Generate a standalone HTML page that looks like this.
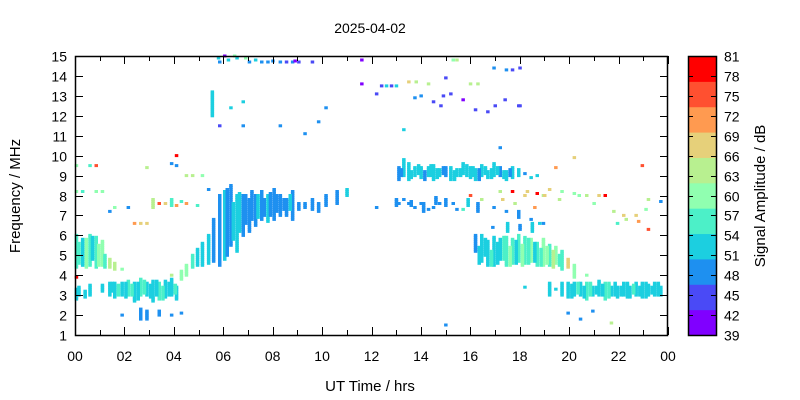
<!DOCTYPE html>
<html><head><meta charset="utf-8"><style>
html,body{margin:0;padding:0;background:#fff;}
svg{display:block;font-family:"Liberation Sans",Arial,sans-serif;}
</style></head><body>
<svg id="chart" width="800" height="400" viewBox="0 0 800 400">
<text x="370" y="33" font-size="14" text-anchor="middle">2025-04-02</text>
<text x="370" y="391" font-size="15" text-anchor="middle">UT Time / hrs</text>
<text transform="translate(20,196) rotate(-90)" font-size="15" text-anchor="middle">Frequency / MHz</text>
<text transform="translate(765,196) rotate(-90)" font-size="15" text-anchor="middle">Signal Amplitude / dB</text>
<g id="marks"></g>
<g id="axes"></g>
<g id="cbar"></g>
</svg>
<script>
const xTickLabels = ["00","02","04","06","08","10","12","14","16","18","20","22","00"];
const yTickLabels = [1,2,3,4,5,6,7,8,9,10,11,12,13,14,15];
const cbTickLabels = [39,42,45,48,51,54,57,60,63,66,69,72,75,78,81];
const bandColors = ["#8000ff","#4a4af6","#1e90f0","#1ccfe0","#4cf0c8","#90ffb0","#b8f090","#e6d07a","#ff9a50","#ff5030","#ff0000"];
// runs: time (h), start freq, end freq, amplitude (dB)
const runTimes = [0.05,0.05,0.05,0.05,0.05,0.3,0.3,0.6,0.6,0.6,0.85,0.85,0.85,1.1,1.1,1.1,1.4,1.4,1.4,1.6,1.6,1.6,1.9,1.9,1.9,2.15,2.15,2.4,2.4,2.65,2.65,2.65,2.9,2.9,2.9,2.9,3.15,3.15,3.4,3.4,3.4,3.65,3.65,3.9,3.9,3.9,3.9,3.9,4.1,4.1,4.1,4.1,4.3,4.3,4.3,4.5,4.5,4.5,4.75,4.75,4.95,4.95,5.15,5.15,5.4,5.4,5.6,5.55,5.85,5.85,5.85,6.05,6.05,6.3,6.3,6.55,6.55,6.8,6.8,6.8,7.05,7.05,7.3,7.55,7.55,7.8,7.8,8.05,8.3,8.3,8.3,8.55,8.55,8.8,8.8,9.05,9.05,9.3,9.3,9.6,9.6,9.85,9.85,10.15,10.15,10.6,11.0,11.6,11.6,12.2,12.2,12.4,12.6,12.8,13.0,13.1,13.1,13.3,13.3,13.3,13.5,13.5,13.5,13.75,13.75,13.75,14.0,14.0,14.0,14.3,14.3,14.3,14.5,14.5,14.5,14.75,14.75,15.0,15.0,15.0,15.0,15.2,15.2,15.45,15.45,15.45,15.7,15.7,15.7,16.0,16.0,16.2,16.2,16.2,16.45,16.45,16.45,16.7,16.7,16.7,16.95,16.95,16.95,16.95,17.2,17.2,17.2,17.2,17.45,17.45,17.45,17.45,17.7,17.7,17.7,17.95,17.95,17.95,17.95,18.2,18.2,18.2,18.2,18.45,18.45,18.45,18.7,18.7,18.7,18.95,18.95,18.95,19.2,19.2,19.2,19.45,19.45,19.45,19.7,19.7,19.7,19.95,19.95,19.95,20.2,20.2,20.2,20.2,20.45,20.45,20.7,20.7,20.7,20.95,20.95,21.2,21.2,21.45,21.45,21.7,21.7,21.95,21.95,22.2,22.2,22.45,22.7,22.7,22.95,22.95,23.2,23.2,23.2,23.45,23.7,23.7];
const runStart = [4.4,2.8,8.2,9.5,3.9,4.5,8.2,4.5,3.0,9.5,4.4,8.2,9.5,4.5,3.2,8.2,4.4,3.0,7.2,4.3,2.9,7.4,4.3,3.0,2.0,3.0,7.4,2.7,6.6,3.0,1.8,6.6,3.0,1.8,6.6,9.4,2.7,7.4,2.8,2.0,7.6,2.9,7.6,3.0,2.0,7.5,9.6,4.0,2.8,10.0,9.5,7.5,3.8,2.1,7.7,4.0,7.6,9.0,4.4,9.0,4.5,7.5,4.5,9.0,4.6,8.3,4.7,12.0,4.5,14.7,11.5,4.8,15.0,5.5,12.4,5.2,14.9,6.0,12.7,11.5,6.2,14.7,6.5,6.8,14.7,6.7,14.7,6.8,7.0,14.7,11.5,7.0,14.7,6.8,14.7,7.3,14.7,7.4,11.1,7.3,14.7,7.2,11.7,7.5,12.4,7.6,8.0,14.8,13.6,7.4,13.1,13.5,13.5,13.5,13.5,8.8,7.6,9.0,7.8,11.3,8.8,7.6,13.7,9.0,7.4,12.9,8.9,7.6,13.0,9.0,7.3,13.6,8.8,7.4,12.7,9.0,7.6,9.0,7.5,13.9,1.5,8.8,13.1,9.0,7.3,14.8,9.1,7.3,12.8,8.9,8.0,8.8,5.2,12.3,9.0,4.7,7.8,8.9,4.5,12.2,9.0,4.5,7.4,14.4,9.0,4.8,8.2,10.4,8.8,4.5,7.2,14.3,8.9,4.6,8.2,9.0,4.7,6.9,12.5,9.1,4.6,8.0,3.4,8.9,4.7,6.8,9.0,4.5,8.1,4.5,6.6,8.0,4.5,3.0,8.3,4.6,3.3,9.4,4.3,3.0,8.2,4.4,2.9,2.1,3.9,3.0,8.1,9.9,3.0,1.8,2.8,8.0,4.0,3.0,2.2,3.0,8.0,2.8,8.0,3.0,1.6,2.9,6.6,3.0,7.0,2.9,3.0,7.0,2.9,9.5,3.0,6.3,7.8,3.0,3.0,7.7];
const runEnd = [6.0,3.3,8.2,9.5,3.9,5.8,8.2,6.0,3.5,9.5,5.9,8.2,9.5,5.7,3.5,8.2,4.8,3.6,7.2,4.6,3.6,7.4,4.3,3.6,2.0,3.7,7.4,3.6,6.6,3.8,2.3,6.6,3.6,2.2,6.6,9.4,3.7,7.8,3.6,2.2,7.6,3.7,7.6,3.8,2.0,7.8,9.6,4.0,3.4,10.0,9.5,7.5,4.2,2.1,7.7,4.5,7.6,9.0,5.0,9.0,5.3,7.5,5.6,9.0,6.0,8.3,6.8,13.2,8.0,14.7,11.5,8.2,15.0,8.5,12.4,8.0,14.9,8.0,12.7,11.5,7.8,14.7,8.0,8.2,14.7,8.0,14.7,8.3,8.0,14.7,11.5,7.8,14.7,8.2,14.7,7.6,14.7,7.6,11.1,7.8,14.7,7.6,11.7,8.0,12.4,8.2,8.3,14.8,13.6,7.4,13.1,13.5,13.5,13.5,13.5,9.4,7.6,9.8,7.8,11.3,9.6,7.6,13.7,9.4,7.4,12.9,9.4,7.6,13.0,9.4,7.3,13.6,9.5,7.4,12.7,9.3,7.6,9.4,7.8,13.9,1.5,9.4,13.1,9.3,7.3,14.8,9.6,7.3,12.8,9.4,8.0,9.3,6.0,12.3,9.5,6.0,7.8,9.2,5.7,12.2,9.6,5.9,7.4,14.4,9.4,5.8,8.2,10.4,9.2,5.9,7.2,14.3,9.4,5.8,8.2,9.3,6.0,7.2,12.5,9.1,5.9,8.0,3.4,8.9,5.8,6.8,9.0,5.6,8.1,5.8,6.6,8.0,5.5,3.6,8.3,5.4,3.3,9.4,5.2,3.6,8.2,4.8,3.6,2.1,4.5,3.6,8.1,9.9,3.6,1.8,3.6,8.0,4.0,3.4,2.2,3.7,8.0,3.6,8.0,3.4,1.6,3.4,6.6,3.6,7.0,3.4,3.6,7.0,3.6,9.5,3.5,6.3,7.8,3.6,3.4,7.7];
const runAmps = [56,52,60,60,79,52,56,56,52,56,56,60,75,60,52,60,64,52,48,64,52,60,60,52,48,56,48,52,71,56,48,67,52,48,67,64,52,64,56,48,75,52,67,52,48,56,48,64,52,79,48,71,60,48,56,60,71,64,56,64,52,56,52,60,52,48,48,52,48,48,44,52,40,48,52,52,52,48,52,48,48,48,48,48,48,52,48,48,48,48,48,48,44,48,48,48,44,48,48,48,44,48,48,48,48,48,52,40,40,48,44,44,52,44,52,48,48,52,48,52,52,48,67,52,48,48,52,48,48,52,48,64,52,48,44,52,48,48,48,44,48,52,44,52,48,64,52,56,40,52,75,52,48,44,52,52,64,52,52,44,52,52,48,48,48,52,64,48,52,56,48,48,52,56,79,52,56,48,44,48,56,67,52,52,60,48,52,56,79,60,48,64,56,52,67,60,52,71,56,52,60,67,52,48,60,52,60,67,52,48,56,64,60,52,48,52,67,56,79,52,64,52,56,52,67,52,52,67,52,75,52,75,64,52,52,48];
// additional runs read from the denser regions
const extraTimes = [16.35,16.6,16.85,17.1,17.35,17.6,17.85,18.1,18.35,18.6,18.85,19.1,19.35,19.6,17.5,18.0,18.5,18.8,16.9,13.2,13.6,13.9,14.15,14.4,14.65,14.9,15.35,15.6,15.85,16.1,16.35,16.6,16.85,17.1,17.35,17.6,13.0,13.6,14.1,14.6,15.3,15.9,16.3,6.15,6.4,6.65,6.9,7.15,7.4,7.65,7.9,8.15,8.45,8.7,0.15,0.45,0.7,0.95,1.2,0.15,0.4,1.5,1.75,2.05,2.3,2.55,2.8,3.05,3.3,3.55,3.8,4.05,20.1,20.35,20.6,20.85,21.1,21.35,21.6,21.85,22.1,22.35,22.6,22.85,23.1,23.35,23.6,5.8,6.2,6.45,6.9,7.3,8.0,8.9,15.3,16.0,16.3,13.8,14.9,14.8,17.0,17.4,17.7,18.0,18.0,17.3,17.8,18.3,18.6,19.0,19.6,20.4,21.0,21.8,22.3,22.8,23.1];
const extraStart = [4.6,5.0,4.5,4.6,4.8,4.5,4.6,4.5,4.6,4.7,4.5,4.6,4.4,4.5,6.2,6.3,6.2,6.6,6.4,9.0,8.9,9.1,8.8,9.0,8.9,9.1,8.8,9.0,9.0,9.0,8.8,9.1,8.9,9.1,8.9,9.0,7.5,7.5,7.2,7.6,7.6,7.5,7.2,5.0,5.8,6.2,6.6,6.8,6.9,7.0,7.0,7.2,7.3,7.3,4.6,4.4,4.8,4.5,4.4,3.0,2.9,3.2,3.0,2.9,3.0,2.8,3.1,2.9,3.0,2.8,3.0,3.1,2.9,3.1,2.9,3.0,3.1,3.0,2.9,3.0,3.0,2.9,3.1,3.0,2.9,3.1,3.0,14.9,14.8,15.0,14.9,14.8,14.75,14.75,14.8,13.6,13.6,13.7,13.0,12.5,12.5,12.8,14.3,14.4,12.5,7.8,7.6,8.2,7.4,8.0,7.8,8.0,7.6,7.2,6.8,6.7,7.3];
const extraEnd = [5.4,5.8,5.2,5.6,5.9,5.4,5.7,5.5,5.8,5.6,5.3,5.4,5.2,5.0,6.6,6.5,6.6,6.6,6.4,9.3,9.2,9.5,9.2,9.5,9.3,9.4,9.2,9.3,9.5,9.4,9.3,9.4,9.3,9.4,9.2,9.3,7.8,7.7,7.6,7.9,7.6,7.8,7.6,8.3,7.6,8.1,8.0,8.2,8.0,7.8,8.1,8.0,7.8,8.0,5.6,5.8,5.9,5.5,5.0,3.4,3.2,3.6,3.5,3.6,3.5,3.6,3.7,3.5,3.7,3.4,3.6,3.5,3.5,3.6,3.4,3.6,3.4,3.5,3.6,3.6,3.4,3.6,3.5,3.4,3.6,3.4,3.6,14.9,14.8,15.0,14.9,14.8,14.75,14.75,14.8,13.6,13.6,13.7,13.0,12.5,12.5,12.8,14.3,14.4,12.5,7.8,7.6,8.2,7.4,8.0,7.8,8.0,7.6,7.2,6.8,6.7,7.3];
const extraAmps = [52,52,56,52,56,60,52,60,56,52,56,60,64,56,52,48,52,52,48,48,52,52,48,52,52,48,52,52,52,52,48,52,52,52,52,48,48,48,48,48,48,52,48,48,52,52,48,48,52,48,48,48,48,52,56,60,52,60,56,52,52,52,56,52,56,52,56,52,52,56,52,56,52,56,52,56,52,52,56,52,52,52,56,52,52,52,52,52,52,60,60,52,48,40,60,64,64,64,44,44,44,44,44,44,44,67,64,67,71,67,64,60,60,64,64,71,60];

const X0=75,X1=668,Y0=335,Y1=56;
const xs = h => X0 + (X1-X0)*h/24;
const ys = f => Y0 - (Y0-Y1)*(f-1)/14;
const NS="http://www.w3.org/2000/svg";
function colorFor(a){let i=Math.floor((a-39)/(42/11));if(i<0)i=0;if(i>10)i=10;return bandColors[i];}

const marks=document.getElementById('marks');
function drawRuns(T,S,E,A){
  for(let r=0;r<T.length;r++){
    const n=Math.round((E[r]-S[r])/0.1);
    for(let k=0;k<=n;k++){
      const f=S[r]+k*0.1;
      const el=document.createElementNS(NS,'rect');
      
      
      el.setAttribute('x',(xs(T[r])-1.5).toFixed(1));
      el.setAttribute('y',(ys(f)-1.5).toFixed(1));
      el.setAttribute('width','3.5');el.setAttribute('height','3');
      el.setAttribute('fill',colorFor(A[r]));
      marks.appendChild(el);
    }
  }
}
drawRuns(runTimes,runStart,runEnd,runAmps);
drawRuns(extraTimes,extraStart,extraEnd,extraAmps);

const axes=document.getElementById('axes');
function line(g,x1,y1,x2,y2,name){const l=document.createElementNS(NS,'line');
  
  
  l.setAttribute('x1',x1);l.setAttribute('y1',y1);l.setAttribute('x2',x2);l.setAttribute('y2',y2);
  l.setAttribute('stroke','#000');l.setAttribute('stroke-width','1');g.appendChild(l);}
function text(g,x,y,s,anchor,name){const t=document.createElementNS(NS,'text');
  
  
  t.setAttribute('x',x);t.setAttribute('y',y);t.setAttribute('font-size','14');t.setAttribute('text-anchor',anchor);t.textContent=s;g.appendChild(t);}
const box=document.createElementNS(NS,'rect');


box.setAttribute('x',X0+0.5);box.setAttribute('y',Y1+0.5);box.setAttribute('width',X1-X0-1);box.setAttribute('height',Y0-Y1);
box.setAttribute('fill','none');box.setAttribute('stroke','#000');box.setAttribute('stroke-width','1.5');
axes.appendChild(box);
for(let h=0;h<=24;h++){
  const x=Math.round(xs(h))+0.5, len=(h%2===0)?8:5;
  line(axes,x,Y0,x,Y0-len,'x-tick');line(axes,x,Y1,x,Y1+len,'x-tick-top');
}
xTickLabels.forEach((s,i)=>text(axes,xs(i*2),361,s,'middle','x-tick-label'));
yTickLabels.forEach(f=>{const y=Math.round(ys(f))+0.5;
  line(axes,X0,y,X0+8,y,'y-tick');line(axes,X1,y,X1-8,y,'y-tick-right');
  text(axes,X0-8,y+5,String(f),'end','y-tick-label');});

const cb=document.getElementById('cbar');
const CX=688,CW=28;
const cy = v => Y0 - (Y0-Y1)*(v-39)/42;
bandColors.forEach((c,i)=>{const r=document.createElementNS(NS,'rect');
  
  
  const v0=39+i*42/11,v1=39+(i+1)*42/11;
  r.setAttribute('x',CX);r.setAttribute('y',cy(v1));r.setAttribute('width',CW);r.setAttribute('height',cy(v0)-cy(v1)+0.5);
  r.setAttribute('fill',c);cb.appendChild(r);});
const cbox=document.createElementNS(NS,'rect');


cbox.setAttribute('x',CX+0.5);cbox.setAttribute('y',Y1+0.5);cbox.setAttribute('width',CW);cbox.setAttribute('height',Y0-Y1);
cbox.setAttribute('fill','none');cbox.setAttribute('stroke','#000');cbox.setAttribute('stroke-width','1.5');cb.appendChild(cbox);
cbTickLabels.forEach(v=>{const y=Math.round(cy(v))+0.5;
  line(cb,CX,y,CX+5,y,'colorbar-tick');line(cb,CX+CW,y,CX+CW-5,y,'colorbar-tick-right');
  text(cb,CX+CW+8,y+5,String(v),'start','colorbar-tick-label');});
</script>
</body></html>
